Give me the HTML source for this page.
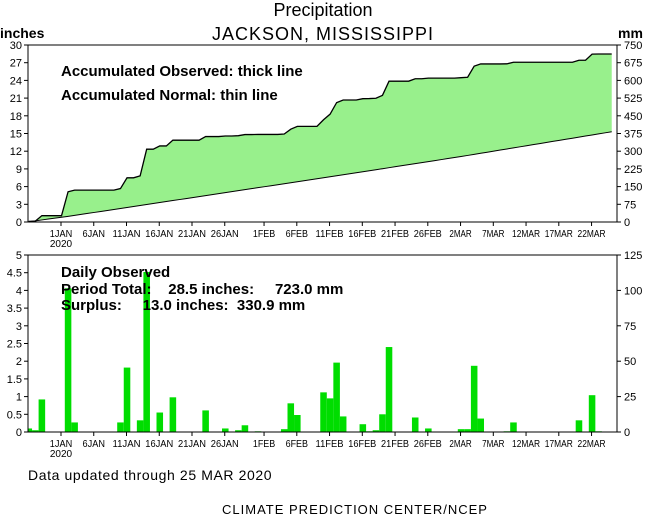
<!DOCTYPE html>
<html><head><meta charset="utf-8"><style>
body{margin:0;background:#fff;}
svg{display:block;font-family:"Liberation Sans",sans-serif;}
</style></head><body>
<svg id="c" width="646" height="518" viewBox="0 0 646 518">
<rect width="646" height="518" fill="#fff"/>
<text x="323" y="16" text-anchor="middle" font-size="18">Precipitation</text>
<text x="323" y="40" text-anchor="middle" font-size="18" letter-spacing="1">JACKSON,  MISSISSIPPI</text>
<text x="0" y="38" font-size="14" font-weight="bold">inches</text>
<text x="618" y="38" font-size="14" font-weight="bold">mm</text>
<g id="gtop"></g>
<g id="gbot"></g>
<text x="61" y="76" font-size="15" font-weight="bold">Accumulated Observed: thick line</text>
<text x="61" y="100" font-size="15" font-weight="bold">Accumulated Normal: thin line</text>
<text x="61" y="277" font-size="15" font-weight="bold">Daily Observed</text>
<text x="61" y="294" font-size="15" font-weight="bold" xml:space="preserve">Period Total:    28.5 inches:     723.0 mm</text>
<text x="61" y="310" font-size="15" font-weight="bold" xml:space="preserve">Surplus:     13.0 inches:  330.9 mm</text>
<text x="28" y="480" font-size="14" letter-spacing="0.6">Data updated through 25 MAR 2020</text>
<text x="355" y="514" text-anchor="middle" font-size="13" letter-spacing="1">CLIMATE PREDICTION CENTER/NCEP</text>
</svg>
<script>
const dailyIdx = [0,1,2,6,7,14,15,17,18,20,22,27,30,32,33,35,39,40,41,45,46,47,48,51,52,53,54,55,59,61,66,67,68,69,73,74,84,86,87];
const dailyVal = [0.1,0.05,0.92,4.06,0.27,0.27,1.82,0.33,4.52,0.55,0.98,0.61,0.1,0.05,0.19,0.02,0.08,0.81,0.48,1.12,0.95,1.96,0.44,0.22,0.02,0.05,0.5,2.4,0.41,0.1,0.08,0.08,1.87,0.38,0.02,0.27,0.33,1.04,0.02];
const normalIdx = [0,6,48,66,89];
const normalVal = [0.05,0.95,8.0,11.1,15.3];
const tickDays = [0,5,10,15,20,25,31,36,41,46,51,56,61,66,71,76,81];
const tickLabels = ["1JAN","6JAN","11JAN","16JAN","21JAN","26JAN","1FEB","6FEB","11FEB","16FEB","21FEB","26FEB","2MAR","7MAR","12MAR","17MAR","22MAR"];
const topTicksL = [0,3,6,9,12,15,18,21,24,27,30];
const topTicksR = [0,75,150,225,300,375,450,525,600,675,750];
const botTicksL = ["0","0.5","1","1.5","2","2.5","3","3.5","4","4.5","5"];
const botTicksR = [0,25,50,75,100,125];
const NS="http://www.w3.org/2000/svg";
const L=28,R=617,x0=25.5,w=6.55,NDAYS=90;
const xDay=i=>x0+i*w;
const xDate=d=>61+d*w;
const yTop=v=>222-v*(177/30);
const yBot=v=>432-v*(177/5);
function mk(p,t,a){const el=document.createElementNS(NS,t);for(const k in a)el.setAttribute(k,a[k]);p.appendChild(el);return el;}
const gTop=document.getElementById('gtop'),gBot=document.getElementById('gbot');
const daily=new Array(NDAYS).fill(0);
dailyIdx.forEach((d,k)=>daily[d]=dailyVal[k]);
const cum=[];let s=0;for(let i=0;i<NDAYS;i++){s+=daily[i];cum.push(s);}
function normalAt(i){for(let k=0;k<normalIdx.length-1;k++){if(i<=normalIdx[k+1]){const t=(i-normalIdx[k])/(normalIdx[k+1]-normalIdx[k]);return normalVal[k]+t*(normalVal[k+1]-normalVal[k]);}}return normalVal[normalVal.length-1];}
const obsPts=[],normPts=[];
obsPts.push([L+2,yTop(0)]);normPts.push([L+2,yTop(0)]);
for(let i=0;i<NDAYS;i++){const x=xDay(i)+w/2;if(x<L)continue;obsPts.push([x,yTop(cum[i])]);normPts.push([x,yTop(normalAt(i))]);}
const fillD="M"+obsPts.map(p=>p.join(",")).join("L")+"L"+normPts.slice().reverse().map(p=>p.join(",")).join("L")+"Z";
let el=mk(gTop,'path',{d:fillD,fill:'#98f08c',stroke:'none'});


el=mk(gTop,'polyline',{points:obsPts.map(p=>p.join(",")).join(" "),fill:'none',stroke:'#000','stroke-width':1.3});


el=mk(gTop,'polyline',{points:normPts.map(p=>p.join(",")).join(" "),fill:'none',stroke:'#000','stroke-width':1});


el=mk(gTop,'rect',{x:L,y:45,width:R-L,height:177,fill:'none',stroke:'#000','stroke-width':1});


topTicksL.forEach((v,k)=>{const y=yTop(v);mk(gTop,'line',{x1:L-4,x2:L,y1:y,y2:y,stroke:'#000'});
 el=mk(gTop,'text',{x:L-6,y:y+4,'text-anchor':'end','font-size':11});el.textContent=v;
 
 
 const yr=222-k*17.7;mk(gTop,'line',{x1:R,x2:R+4,y1:yr,y2:yr,stroke:'#000'});
 el=mk(gTop,'text',{x:R+7,y:yr+4,'font-size':11});el.textContent=topTicksR[k];
 
 });
for(let i=0;i<NDAYS;i++){if(!daily[i])continue;let xa=Math.max(xDay(i),L),xb=xDay(i+1);
 el=mk(gBot,'rect',{x:xa,y:yBot(daily[i]),width:xb-xa,height:432-yBot(daily[i]),fill:'#00dd00'});
 
 }
el=mk(gBot,'rect',{x:L,y:255,width:R-L,height:177,fill:'none',stroke:'#000','stroke-width':1});


botTicksL.forEach((v,k)=>{const y=yBot(k*0.5);mk(gBot,'line',{x1:L-4,x2:L,y1:y,y2:y,stroke:'#000'});
 el=mk(gBot,'text',{x:L-6,y:y+4,'text-anchor':'end','font-size':11});el.textContent=v;
 
 });
botTicksR.forEach((v,k)=>{const y=432-k*35.4;mk(gBot,'line',{x1:R,x2:R+4,y1:y,y2:y,stroke:'#000'});
 el=mk(gBot,'text',{x:R+7,y:y+4,'font-size':11});el.textContent=v;
 
 });
[[gTop,222],[gBot,432]].forEach(([g,yb])=>{tickDays.forEach((d,k)=>{const x=xDate(d);
 mk(g,'line',{x1:x,x2:x,y1:yb,y2:yb+4,stroke:'#000'});
 el=mk(g,'text',{x:x,y:yb+15,'text-anchor':'middle','font-size':10,'textLength':tickLabels[k].length*5.6,'lengthAdjust':'spacingAndGlyphs'});el.textContent=tickLabels[k];
 
 });
 el=mk(g,'text',{x:xDate(0),y:yb+25,'text-anchor':'middle','font-size':10});el.textContent="2020";
 
 });
</script>
</body></html>
